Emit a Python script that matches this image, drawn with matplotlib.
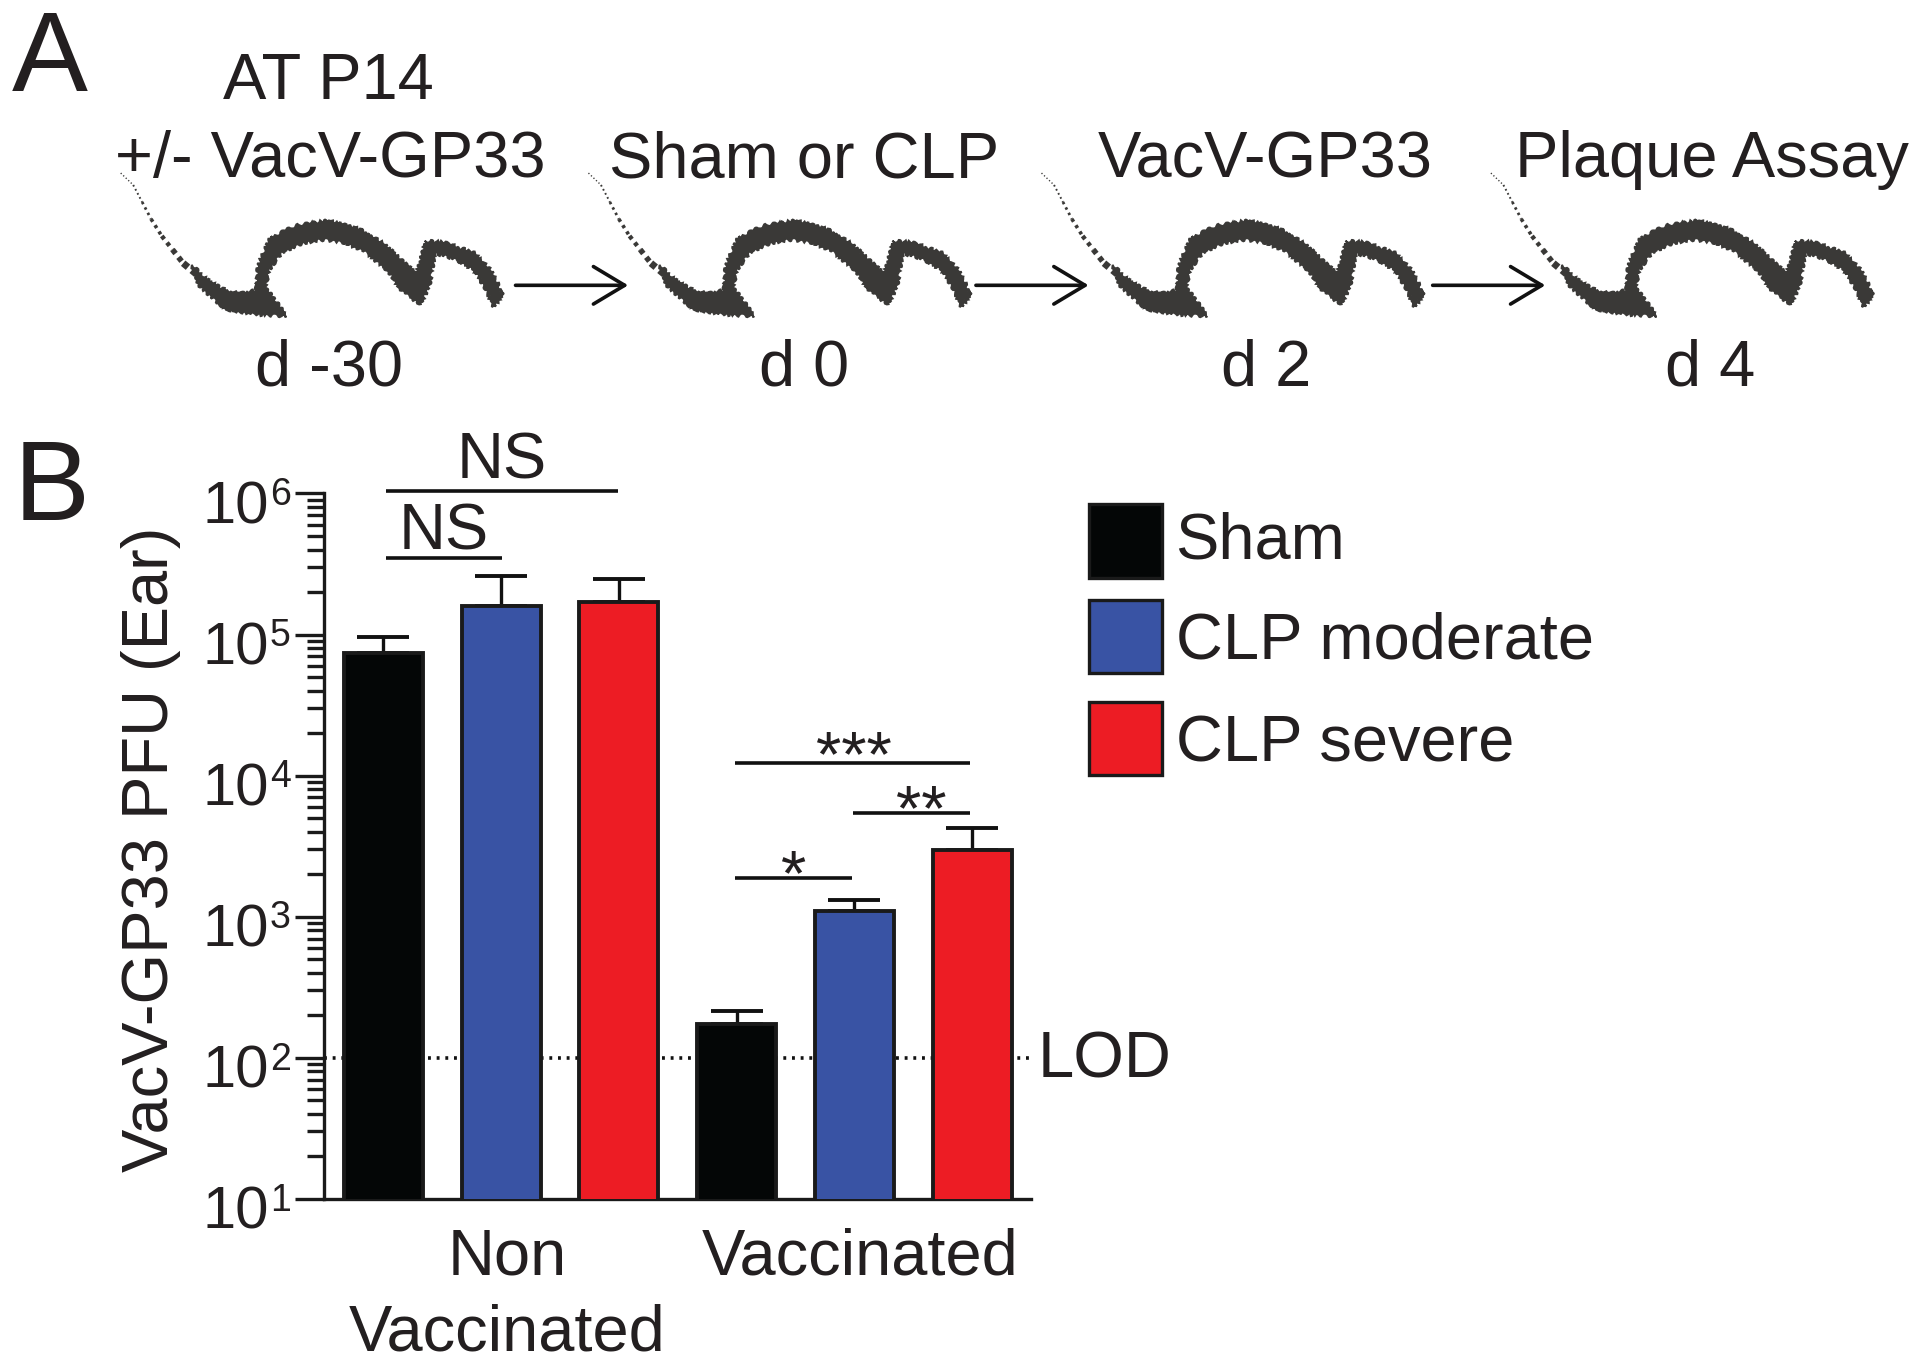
"""Two-panel figure: experiment timeline (A) and VacV-GP33 PFU bars (B)."""
import matplotlib
matplotlib.use("Agg")
import matplotlib.pyplot as plt
import numpy as np
from matplotlib.patches import Polygon, Rectangle

plt.rcParams["font.family"] = ["Liberation Sans", "DejaVu Sans"]

W, H = 1920, 1366
S = 1920 / 1568
INK = "#231f20"
FS = 46.8

# ---------------------------------------------------------------------------
# Data
# ---------------------------------------------------------------------------
bar_means = [7.4e4, 1.6e5, 1.69e5, 174, 1100, 2980]
bar_upper = [9.6e4, 2.6e5, 2.47e5, 213, 1312, 4266]
bar_colors = ["#040606", "#3953a4", "#ed1c24", "#040606", "#3953a4", "#ed1c24"]
group_labels = ["Non\nVaccinated", "Vaccinated"]
decades = [1, 2, 3, 4, 5, 6]
lod = 100

legend_labels = ["Sham", "CLP moderate", "CLP severe"]
legend_colors = ["#040606", "#3953a4", "#ed1c24"]

step_top = ["+/- VacV-GP33", "Sham or CLP", "VacV-GP33", "Plaque Assay"]
step_day = ["d -30", "d 0", "d 2", "d 4"]

mouse_x = [250, 300, 345, 385, 430, 435, 470, 540, 630, 720, 790, 850, 880,
           905, 960, 1040, 1090, 1120, 1095, 1075, 1040, 980, 930, 915, 890, 840, 800,
           740, 680, 620, 560, 500, 465, 455, 515, 430, 345, 310, 262]
mouse_y = [322, 370, 395, 405, 395, 320, 240, 205, 190, 215, 260, 320, 345,
           250, 255, 285, 340, 405, 445, 395, 335, 300, 285, 380, 435, 400, 340,
           285, 255, 245, 255, 285, 335, 385, 470, 465, 450, 420, 372]
tail_x = [50, 85, 110, 135, 165, 195, 225, 265]
tail_y = [50, 85, 135, 185, 235, 275, 315, 350]

# ---------------------------------------------------------------------------
# Layout
# ---------------------------------------------------------------------------
fig = plt.figure(figsize=(W / 100, H / 100), dpi=100, facecolor="white")

ax_left, ax_right = 265 * S, 842 * S
ax_top, ax_bottom = 403 * S, 979 * S
ax = fig.add_axes([ax_left / W, 1 - ax_bottom / H,
                   (ax_right - ax_left) / W, (ax_bottom - ax_top) / H])

over = fig.add_axes([0, 0, 1, 1], facecolor="none")
over.set_xlim(0, 1568)
over.set_ylim(1366 / S, 0)
over.axis("off")

# ---------------------------------------------------------------------------
# Panel B
# ---------------------------------------------------------------------------
x = np.arange(len(bar_means))
means = np.array(bar_means, dtype=float)
upper = np.array(bar_upper, dtype=float)

ax.set_yscale("log")
ax.set_ylim(10, 1e6)
ax.set_xlim(-0.5, 5.5)
ax.plot([-0.5, 5.5], [lod, lod], color="#111111", lw=2.6, ls=(0, (0.8, 1.6)), zorder=1)
ax.errorbar(x, means, yerr=[np.zeros_like(means), upper - means], fmt="none",
            ecolor="#111111", elinewidth=2.4, capsize=19, capthick=2.8, zorder=2)
ax.bar(x, means, width=0.67, color=bar_colors, edgecolor="#1a1a1a", linewidth=2.8, zorder=3)

for side in ["top", "right"]:
    ax.spines[side].set_visible(False)
for side in ["left", "bottom"]:
    ax.spines[side].set_linewidth(2.4)
    ax.spines[side].set_color("#1a1a1a")
ax.tick_params(axis="y", which="major", length=21, width=2.4, color="#1a1a1a", labelleft=False)
ax.tick_params(axis="y", which="minor", length=12, width=2.4, color="#1a1a1a", labelleft=False)
ax.set_yticks([10.0 ** d for d in decades])
ax.yaxis.set_minor_locator(matplotlib.ticker.LogLocator(base=10, subs=range(2, 10), numticks=12))
ax.yaxis.set_minor_formatter(matplotlib.ticker.NullFormatter())
ax.set_xticks([1.05, 4.05])
ax.set_xticklabels(group_labels, fontsize=FS, color=INK, linespacing=1.33)
ax.tick_params(axis="x", length=0, pad=21)

# decade labels, set by hand because the exponent tucks in against the 10
yaxis_tr = ax.get_yaxis_transform()
for d in decades:
    ax.annotate("10", xy=(0, 10.0 ** d), xycoords=yaxis_tr, xytext=(-40, -10.6),
                textcoords="offset points", fontsize=43, color=INK, ha="right", va="center",
                annotation_clip=False)
    ax.annotate(str(d), xy=(0, 10.0 ** d), xycoords=yaxis_tr, xytext=(-39.5, -1.3),
                textcoords="offset points", fontsize=27, color=INK, ha="left", va="center",
                annotation_clip=False)

over.text(123, 694, "VacV-GP33 PFU (Ear)", fontsize=FS, color=INK, rotation=90,
          ha="center", va="center")
over.text(847, 866, "LOD", fontsize=FS, color=INK, va="center", ha="left")

# significance bars: x0, x1, y, label, label x, label y, size
brackets = [
    (315, 505, 401, "NS", 410, 377, FS),
    (315, 410, 456, "NS", 362, 435, FS),
    (600, 792, 623, "***", 697, 620, 47),
    (697, 792, 664, "**", 752, 664, 47),
    (600, 696, 717, "*", 648, 717, 47),
]
for x0, x1, y, label, lx, ly, size in brackets:
    over.plot([x0, x1], [y, y], color="#111111", lw=2.6, solid_capstyle="butt")
    over.text(lx, ly, label, fontsize=size, color=INK, ha="center", va="center")

# legend
legend_y = [412, 490, 573]
legend_text_y = [442, 524, 608]
for label, color, y, ty in zip(legend_labels, legend_colors, legend_y, legend_text_y):
    over.add_patch(Rectangle((889, y), 60, 60, facecolor=color, edgecolor="#1a1a1a", lw=2.4))
    over.text(960, ty, label, fontsize=FS, color=INK, va="center", ha="left")

# ---------------------------------------------------------------------------
# Panel A
# ---------------------------------------------------------------------------
over.text(10, 51, "A", fontsize=82, color=INK, va="center", ha="left")
over.text(11, 401, "B", fontsize=82, color=INK, va="center", ha="left")
over.text(268, 67, "AT P14", fontsize=FS, color=INK, ha="center", va="center")


def mouse_xy(xs, ys, offset):
    return 84 + np.array(xs) / 3.43 + offset, 258 - (470 - np.array(ys)) / 3.6


top_x = [270, 657, 1033, 1398]
day_x = [269, 657, 1034, 1397]
mouse_dx = [0, 382, 752, 1119]
for label, tx, day, dx_, mdx in zip(step_top, top_x, step_day, day_x, mouse_dx):
    over.text(tx, 131, label, fontsize=FS, color=INK, ha="center", va="center")
    over.text(dx_, 301, day, fontsize=FS, color=INK, ha="center", va="center")
    bx, by = mouse_xy(mouse_x, mouse_y, mdx)
    poly = Polygon(np.column_stack([bx, by]), closed=True, facecolor="#3a3937",
                   edgecolor="#3a3937", lw=1.5)
    poly.set_sketch_params(scale=1.6, length=7, randomness=4)
    over.add_patch(poly)
    # tail breaks up into specks towards its tip
    tx_, ty_ = mouse_xy(tail_x, tail_y, mdx)
    for i, lw in enumerate([1.0, 1.4, 2.0, 2.6, 3.2, 4.0, 5.0]):
        over.plot(tx_[i:i + 2], ty_[i:i + 2], color="#3a3937", lw=lw,
                  ls=(0, (0.9, 1.6 - i * 0.15)), solid_capstyle="butt")

arrow_x = [(421, 513), (797, 889), (1170, 1262)]
for x0, x1 in arrow_x:
    over.annotate("", xy=(x1, 233), xytext=(x0, 233),
                  arrowprops=dict(arrowstyle="->,head_length=0.75,head_width=0.45", color="#111111",
                                  lw=2.6, mutation_scale=30, shrinkA=0, shrinkB=0))

fig.savefig("out.png", dpi=100, facecolor="white")
